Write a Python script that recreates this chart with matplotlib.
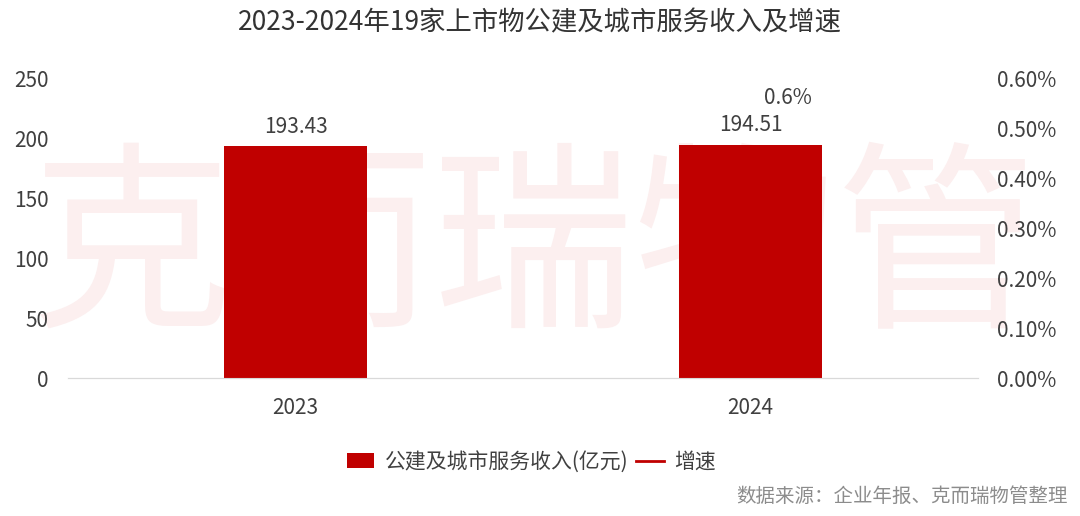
import matplotlib.pyplot as plt
import numpy as np
from matplotlib.lines import Line2D
from matplotlib.patches import Patch
from matplotlib.ticker import FuncFormatter

plt.rcParams["font.family"] = ["Noto Sans CJK SC", "DejaVu Sans"]

years = ["2023", "2024"]
revenue = [193.43, 194.51]
growth = [np.nan, 0.0056]
growth_labels = ["", "0.6%"]

RED = "#C00000"
TXT = "#404040"

fig = plt.figure(figsize=(10.8, 5.16), dpi=100)
ax = fig.add_axes([0.063, 0.2674, 0.8426, 0.5814])
ax2 = ax.twinx()

# watermark, behind everything
fig.text(0.494, 0.505, "克而瑞物管", fontsize=145, color="#FCEFEF", ha="center",
         va="center", zorder=-5, fontweight="medium")
ax.patch.set_alpha(0)
ax2.patch.set_alpha(0)

x = np.arange(len(years))
ax.bar(x, revenue, width=0.316, color=RED, zorder=3)
for xi, v in zip(x, revenue):
    ax.annotate(f"{v:.2f}", (xi, v), xytext=(0, 6), textcoords="offset points",
                ha="center", va="bottom", fontsize=15, color=TXT)

ax.set_xlim(-0.5, 1.5)
ax.set_ylim(0, 250)
ax.set_yticks(range(0, 251, 50))
ax.set_xticks(x)
ax.set_xticklabels(years)
ax.tick_params(axis="both", length=0, labelsize=15, labelcolor=TXT)
ax.tick_params(axis="x", pad=14)
ax.tick_params(axis="y", pad=14)

ax2.plot(x, growth, color=RED, lw=2)
for xi, g, lab in zip(x, growth, growth_labels):
    if lab:
        ax2.annotate(lab, (xi, g), xytext=(27, 0), textcoords="offset points",
                     ha="center", va="center", fontsize=15, color=TXT)
ax2.set_ylim(0, 0.006)
ax2.set_yticks(np.arange(0, 0.0061, 0.001))
ax2.yaxis.set_major_formatter(FuncFormatter(lambda v, p: f"{v * 100:.2f}%"))
ax2.tick_params(axis="y", length=0, labelsize=15, labelcolor=TXT, pad=14)

for a in (ax, ax2):
    for s in ["top", "left", "right"]:
        a.spines[s].set_visible(False)
    a.spines["bottom"].set_color("#D9D9D9")

fig.text(0.5, 0.955, "2023-2024年19家上市物公建及城市服务收入及增速", ha="center",
         va="center", fontsize=19, color="#333333", fontweight="medium")

handles = [Patch(facecolor=RED, label="公建及城市服务收入(亿元)"),
           Line2D([0], [0], color=RED, lw=2, label="增速")]
fig.legend(handles=handles, loc="center", bbox_to_anchor=(0.492, 0.105), ncol=2,
           frameon=False, fontsize=15, handlelength=1.3, handletextpad=0.5,
           columnspacing=0.4, labelcolor=TXT)

fig.text(0.989, 0.037, "数据来源：企业年报、克而瑞物管整理", ha="right", va="center",
         fontsize=14, color="#8C8C8C")

fig.savefig("out.png", dpi=100)
